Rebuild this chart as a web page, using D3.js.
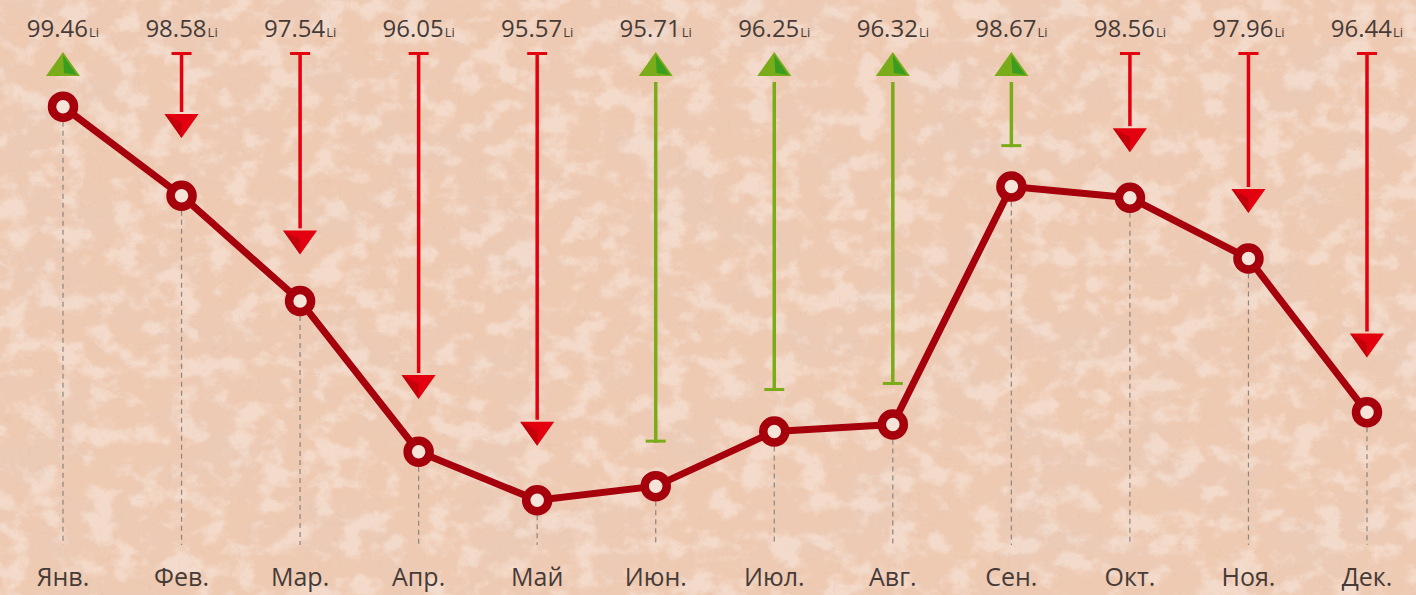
<!DOCTYPE html>
<html>
<head>
  <meta charset="utf-8">
  <title>Li по месяцам</title>
  <script src="https://d3js.org/d3.v7.min.js"></script>
  <style>
    html, body { margin: 0; padding: 0; background: #edc9b2; }
    svg { display: block; }
    .lbl { font-family: "Open Sans", "DejaVu Sans", sans-serif; fill: #463b37; }
  </style>
</head>
<body>
  <svg id="chart"></svg>

  <script>
    // данные
    var months = ['Янв.', 'Фев.', 'Мар.', 'Апр.', 'Май', 'Июн.', 'Июл.', 'Авг.', 'Сен.', 'Окт.', 'Ноя.', 'Дек.'];
    var values = [99.46, 98.58, 97.54, 96.05, 95.57, 95.71, 96.25, 96.32, 98.67, 98.56, 97.96, 96.44];
    var arrowEnds = [99.92, 99.15, 98.00, 96.57, 96.11, 96.14, 96.65, 96.71, 99.06, 99.01, 98.41, 96.98];
    var trend = ['up', 'down', 'down', 'down', 'down', 'up', 'up', 'up', 'up', 'down', 'down', 'down'];
    var unit = 'Li';

    var svgWidth = 1416;
    var svgHeight = 595;

    var svg = d3.select('#chart')
      .attr('width', svgWidth)
      .attr('height', svgHeight);

    // фон "мрамор"
    var defs = svg.append('defs');

    function noiseFilter(id, type, freq, oct, seed, matrix) {
      var f = defs.append('filter').attr('id', id)
        .attr('x', 0).attr('y', 0).attr('width', '100%').attr('height', '100%');
      f.append('feTurbulence').attr('type', type)
        .attr('baseFrequency', freq).attr('numOctaves', oct).attr('seed', seed);
      f.append('feColorMatrix').attr('type', 'matrix').attr('values', matrix);
    }

    noiseFilter('darkBlots', 'fractalNoise', '0.011 0.016', 5, 7,
      '0 0 0 0 0.80  0 0 0 0 0.60  0 0 0 0 0.50  4 0 0 0 -1.9');
    noiseFilter('lightBlots', 'fractalNoise', '0.035 0.045', 6, 19,
      '0 0 0 0 1  0 0 0 0 0.95  0 0 0 0 0.91  5 0 0 0 -2.4');
    noiseFilter('veins', 'turbulence', '0.05 0.06', 3, 4,
      '0 0 0 0 0.66  0 0 0 0 0.45  0 0 0 0 0.37  -10 0 0 0 1.0');

    svg.append('rect').attr('width', svgWidth).attr('height', svgHeight).attr('fill', '#eecab3');
    svg.append('rect').attr('width', svgWidth).attr('height', svgHeight)
      .attr('filter', 'url(#darkBlots)').attr('opacity', 0.35);
    svg.append('rect').attr('width', svgWidth).attr('height', svgHeight)
      .attr('filter', 'url(#lightBlots)').attr('opacity', 0.35);
    svg.append('rect').attr('width', svgWidth).attr('height', svgHeight)
      .attr('filter', 'url(#veins)').attr('opacity', 0.22);

    var x = d3.scalePoint()
      .domain(months)
      .range([63, 1367]);

    var y = d3.scaleLinear()
      .domain([95, 100])
      .range([558, 52]);

    var g = svg.append('g');

    // пунктирные вертикали
    g.selectAll('.guide')
      .data(months)
      .enter().append('line')
      .attr('class', 'guide')
      .attr('x1', function(d) { return x(d); })
      .attr('x2', function(d) { return x(d); })
      .attr('y1', function(d, i) { return y(values[i]) + 15; })
      .attr('y2', 545)
      .attr('stroke', '#8c8580')
      .attr('stroke-width', 1.2)
      .attr('stroke-dasharray', '5,4');

    // стрелки
    var red = '#e3000f', redDark = '#b8000a';
    var green = '#7aab18', greenDark = '#2f9a22';
    var triW = 17, triH = 24, capW = 10;

    months.forEach(function(m, i) {
      var cx = x(m);
      var top = y(100);
      var end = y(arrowEnds[i]);
      var a = g.append('g');
      if (trend[i] === 'down') {
        a.append('line').attr('x1', cx - capW).attr('x2', cx + capW)
          .attr('y1', top + 1.5).attr('y2', top + 1.5)
          .attr('stroke', red).attr('stroke-width', 3);
        a.append('line').attr('x1', cx).attr('x2', cx)
          .attr('y1', top).attr('y2', end - triH - 2)
          .attr('stroke', red).attr('stroke-width', 3.5);
        a.append('polygon')
          .attr('points', [[cx - triW, end - triH], [cx + triW, end - triH], [cx, end]].join(' '))
          .attr('fill', red);
        a.append('polygon')
          .attr('points', [[cx - triW, end - triH], [cx, end - triH + 9], [cx, end]].join(' '))
          .attr('fill', redDark).attr('opacity', 0.75);
      } else {
        a.append('polygon')
          .attr('points', [[cx, top], [cx - triW, top + triH], [cx + triW, top + triH]].join(' '))
          .attr('fill', green);
        a.append('polygon')
          .attr('points', [[cx, top + 3], [cx + 1, top + triH - 3], [cx + triW - 3, top + triH - 1]].join(' '))
          .attr('fill', greenDark).attr('opacity', 0.85);
        if (end > top + triH + 12) {
          a.append('line').attr('x1', cx).attr('x2', cx)
            .attr('y1', top + triH + 6).attr('y2', end)
            .attr('stroke', green).attr('stroke-width', 3.5);
          a.append('line').attr('x1', cx - capW).attr('x2', cx + capW)
            .attr('y1', end - 1.5).attr('y2', end - 1.5)
            .attr('stroke', green).attr('stroke-width', 3);
        }
      }
    });

    // линия
    var line = d3.line()
      .x(function(d, i) { return x(months[i]); })
      .y(function(d) { return y(d); });

    g.append('path')
      .datum(values)
      .attr('fill', 'none')
      .attr('stroke', '#a5000b')
      .attr('stroke-width', 7)
      .attr('stroke-linejoin', 'round')
      .attr('d', line);

    g.selectAll('.dot')
      .data(values)
      .enter().append('circle')
      .attr('class', 'dot')
      .attr('cx', function(d, i) { return x(months[i]); })
      .attr('cy', function(d) { return y(d); })
      .attr('r', 11)
      .attr('fill', '#f6e4d8')
      .attr('stroke', '#a5000b')
      .attr('stroke-width', 8.5);

    // подписи значений
    var vl = g.selectAll('.val')
      .data(values)
      .enter().append('text')
      .attr('class', 'lbl val')
      .attr('x', function(d, i) { return x(months[i]); })
      .attr('y', 37)
      .attr('text-anchor', 'middle');
    vl.append('tspan').attr('font-size', 24).text(function(d) { return d.toFixed(2); });
    vl.append('tspan').attr('font-size', 13).attr('dx', 1).text(unit);

    // месяцы
    g.selectAll('.month')
      .data(months)
      .enter().append('text')
      .attr('class', 'lbl month')
      .attr('x', function(d) { return x(d); })
      .attr('y', 586)
      .attr('text-anchor', 'middle')
      .attr('font-size', 25)
      .text(function(d) { return d; });
  </script>
</body>
</html>
